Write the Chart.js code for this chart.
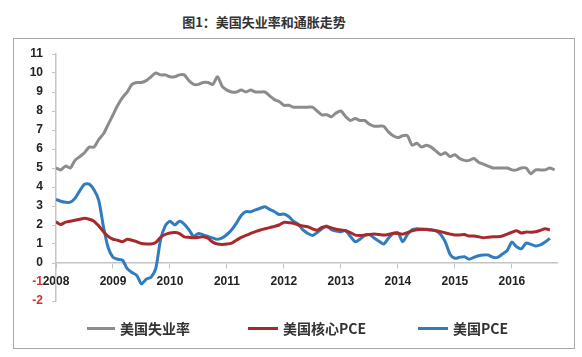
<!DOCTYPE html>
<html>
<head>
<meta charset="utf-8">
<script src="https://cdn.jsdelivr.net/npm/chart.js@4/dist/chart.umd.min.js"></script>
<style>
  html, body { margin: 0; padding: 0; background: #fff; }
  body { width: 582px; height: 357px; position: relative; overflow: hidden; font-family: "Noto Sans CJK SC", sans-serif; }
  #title { position: absolute; left: 0; width: 528px; top: 13px; text-align: center; font-size: 13px; font-weight: bold; color: #333; line-height: 18px; }
  #frame { position: absolute; left: 13px; top: 38px; width: 562px; height: 311px; box-sizing: border-box; border: 1.5px solid #a8a8a8; }
  #c { position: absolute; left: 0; top: 0; }
  .lg { position: absolute; top: 319px; height: 18px; display: flex; align-items: center; font-size: 14px; font-weight: bold; color: #333; white-space: nowrap; }
  .lg span.ln { display: inline-block; height: 3px; margin-right: 5px; }
</style>
</head>
<body>
<div id="title">图1：美国失业率和通胀走势</div>
<div id="frame"></div>
<canvas id="c" width="582" height="357"></canvas>
<div class="lg" style="left:87px"><span class="ln" style="width:28px;background:#8c8c8c"></span>美国失业率</div>
<div class="lg" style="left:248px"><span class="ln" style="width:30px;background:#a8292b"></span>美国核心PCE</div>
<div class="lg" style="left:418px"><span class="ln" style="width:30px;background:#2f7dbf"></span>美国PCE</div>
<script>
// Monthly series, Jan 2008 onward
const unemployment = [
  5.0,4.9,5.1,5.0,5.4,5.6,5.8,6.1,6.1,6.5,6.8,7.3,
  7.8,8.3,8.7,9.0,9.4,9.5,9.5,9.6,9.8,10.0,9.9,9.9,
  9.8,9.8,9.9,9.9,9.6,9.4,9.4,9.5,9.5,9.4,9.8,9.3,
  9.1,9.0,9.0,9.1,9.0,9.1,9.0,9.0,9.0,8.8,8.6,8.5,
  8.3,8.3,8.2,8.2,8.2,8.2,8.2,8.0,7.8,7.8,7.7,7.9,
  8.0,7.7,7.5,7.6,7.5,7.5,7.3,7.2,7.2,7.2,6.9,6.7,
  6.6,6.7,6.7,6.2,6.3,6.1,6.2,6.1,5.9,5.7,5.8,5.6,
  5.7,5.5,5.4,5.4,5.5,5.3,5.2,5.1,5.0,5.0,5.0,5.0,
  4.9,4.9,5.0,5.0,4.7,4.9,4.9,4.9,5.0,4.9
];
const corePCE = [
  2.17,2.03,2.15,2.2,2.25,2.3,2.35,2.3,2.2,1.95,1.65,1.4,
  1.25,1.2,1.12,1.25,1.2,1.12,1.03,1.0,1.0,1.08,1.35,1.5,
  1.58,1.6,1.55,1.38,1.35,1.33,1.35,1.38,1.3,1.1,1.0,0.98,
  1.0,1.05,1.2,1.35,1.45,1.56,1.65,1.74,1.8,1.86,1.93,2.0,
  2.14,2.12,2.09,2.0,1.95,1.91,1.8,1.72,1.88,1.91,1.85,1.78,
  1.74,1.7,1.6,1.47,1.45,1.47,1.5,1.52,1.5,1.47,1.5,1.56,
  1.55,1.52,1.6,1.7,1.75,1.78,1.76,1.74,1.7,1.65,1.58,1.52,
  1.47,1.48,1.5,1.42,1.42,1.38,1.33,1.36,1.38,1.38,1.42,1.52,
  1.62,1.7,1.58,1.63,1.62,1.64,1.72,1.8,1.74
];
const pce = [
  3.35,3.25,3.2,3.2,3.4,3.8,4.15,4.15,3.85,3.3,1.9,0.8,
  0.3,0.2,0.15,-0.3,-0.5,-0.65,-1.1,-0.85,-0.75,-0.3,1.2,1.95,
  2.2,2.0,2.2,2.05,1.75,1.4,1.55,1.48,1.4,1.32,1.25,1.32,
  1.5,1.75,2.1,2.5,2.7,2.7,2.8,2.88,2.96,2.82,2.7,2.55,
  2.58,2.45,2.2,2.05,1.74,1.56,1.45,1.6,1.8,1.95,1.75,1.68,
  1.65,1.7,1.4,1.12,1.25,1.45,1.5,1.32,1.15,1.0,1.3,1.55,
  1.6,1.12,1.5,1.75,1.8,1.78,1.78,1.75,1.7,1.5,1.1,0.45,
  0.25,0.3,0.33,0.2,0.3,0.38,0.42,0.42,0.3,0.3,0.47,0.65,
  1.1,0.85,0.75,1.05,0.98,0.9,0.95,1.1,1.3
];
const xTickLabels = ['2008','2009','2010','2011','2012','2013','2014','2015','2016'];
const seriesNames = ['美国失业率','美国核心PCE','美国PCE'];

const toPts = arr => arr.map((v, i) => ({x: i, y: v}));
const tickFont = {family: '"Liberation Sans", Arial, sans-serif', size: 12, weight: 'bold'};

new Chart(document.getElementById('c'), {
  type: 'line',
  data: {
    datasets: [
      {label: seriesNames[0], data: toPts(unemployment), borderColor: '#8c8c8c', borderWidth: 3, pointRadius: 0, tension: 0.25},
      {label: seriesNames[1], data: toPts(corePCE), borderColor: '#a8292b', borderWidth: 3, pointRadius: 0, tension: 0.25},
      {label: seriesNames[2], data: toPts(pce), borderColor: '#2f7dbf', borderWidth: 3, pointRadius: 0, tension: 0.25}
    ]
  },
  options: {
    responsive: false,
    animation: false,
    layout: {padding: {top: 54, left: 16, right: 25, bottom: 56}},
    plugins: {legend: {display: false}, tooltip: {enabled: false}, title: {display: false}},
    scales: {
      x: {
        type: 'linear',
        position: {y: 0},
        min: 0, max: 105.5,
        afterFit: s => { s.height = 0; },
        border: {display: true, color: '#c4c4c4', width: 1.5},
        grid: {display: true, drawOnChartArea: false, drawTicks: true, tickLength: 5, color: '#c4c4c4'},
        ticks: {
          stepSize: 12, includeBounds: false, autoSkip: false, maxRotation: 0, padding: 6,
          font: tickFont, color: '#222',
          callback: v => xTickLabels[v / 12] ?? ''
        }
      },
      y: {
        min: -2, max: 11,
        afterFit: s => { s.width = 40; },
        border: {display: true, color: '#c4c4c4', width: 1.5},
        grid: {display: true, drawOnChartArea: false, drawTicks: true, tickLength: 4, color: '#c4c4c4'},
        ticks: {
          stepSize: 1, padding: 9, font: tickFont,
          color: ctx => (ctx.tick && ctx.tick.value < 0) ? '#d03030' : '#222'
        }
      }
    }
  }
});
</script>
</body>
</html>
